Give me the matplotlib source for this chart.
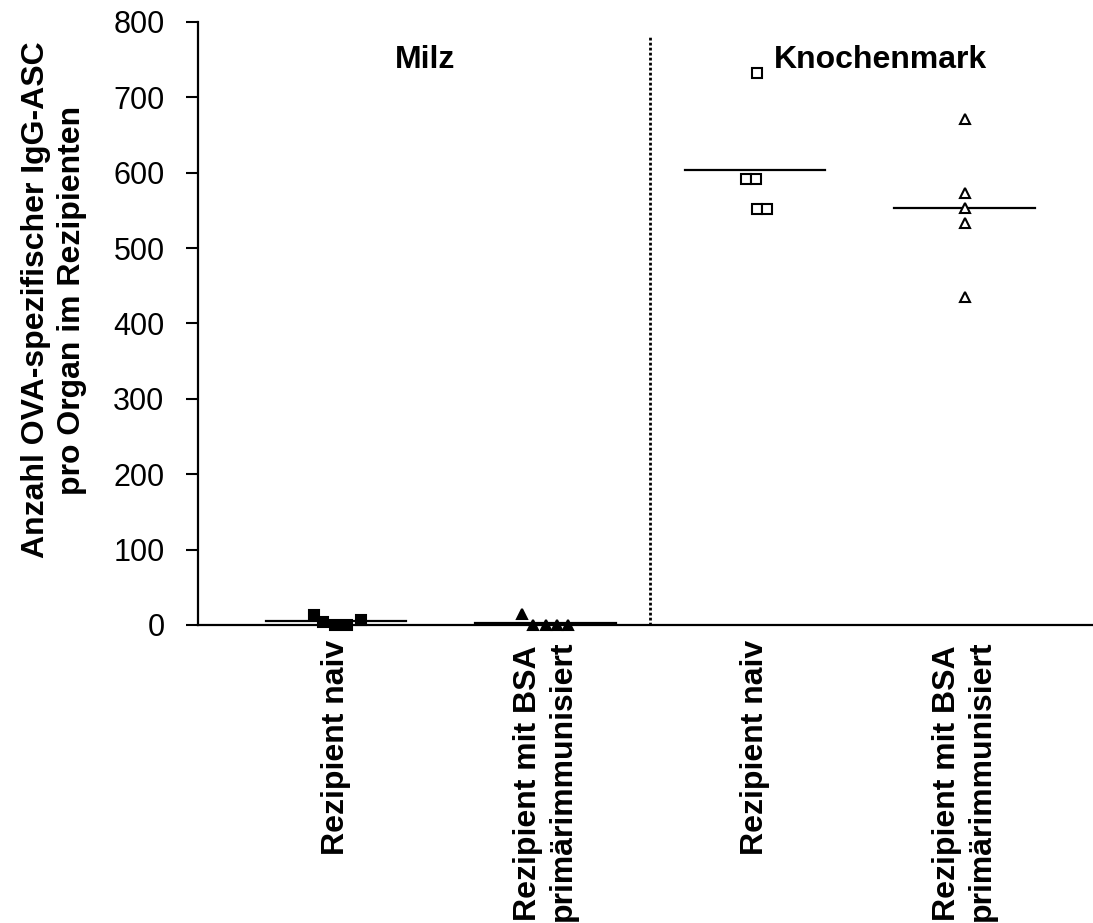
import matplotlib
matplotlib.use('Agg')
import matplotlib.pyplot as plt
import numpy as np

plt.rcParams['font.family'] = ['Liberation Sans', 'DejaVu Sans']

# Groups along the x axis
categories = ['Rezipient naiv', 'Rezipient mit BSA\nprimärimmunisiert',
              'Rezipient naiv', 'Rezipient mit BSA\nprimärimmunisiert']
organs = ['Milz', 'Knochenmark']

# Individual recipients (ASC per organ)
milz_naiv = [13, 4, 0, 0, 7]
milz_bsa = [14, 0, 0, 0, 0]
km_naiv = [732, 592, 592, 552, 552]
km_bsa = [671, 573, 553, 533, 435]

# Horizontal spread of the points within a group
milz_naiv_dx = [-0.105, -0.062, -0.005, 0.053, 0.119]
milz_bsa_dx = [-0.115, -0.062, 0.0, 0.053, 0.105]
km_naiv_dx = [0.007, -0.045, 0.005, 0.010, 0.055]
km_bsa_dx = [0.0, 0.0, 0.0, 0.0, 0.0]

groups = [
    (milz_naiv, milz_naiv_dx, 's', 'black'),
    (milz_bsa, milz_bsa_dx, '^', 'black'),
    (km_naiv, km_naiv_dx, 's', 'white'),
    (km_bsa, km_bsa_dx, '^', 'white'),
]

fig = plt.figure(figsize=(10.93, 9.23), dpi=100)
ax = fig.add_axes([0.1812, 0.3229, 0.8188, 0.6533])

pos = np.arange(1, len(categories) + 1)
for x0, (vals, dx, marker, face) in zip(pos, groups):
    xs = x0 + np.array(dx)
    ax.plot(xs, vals, linestyle='none', marker=marker, markersize=6.5,
            markerfacecolor=face, markeredgecolor='black', markeredgewidth=1.5,
            clip_on=False, zorder=3)
    # group mean
    m = np.mean(vals)
    ax.plot([x0 - 0.335, x0 + 0.335], [m, m], color='black', linewidth=1.6, zorder=2)

# separator between the two organs
ax.plot([2.5, 2.5], [0, 780], color='black', linewidth=2.0,
        linestyle=(0, (1, 0.8)), zorder=1)

ax.text(1.425, 750, organs[0], fontsize=23, fontweight='bold', ha='center', va='center')
ax.text(3.6, 750, organs[1], fontsize=23, fontweight='bold', ha='center', va='center')

ax.set_xlim(0.341, 4.613)
ax.set_ylim(0, 800)
ax.set_yticks(range(0, 801, 100))
ax.tick_params(axis='y', direction='out', length=8.6, width=1.5, labelsize=22, pad=15.5)
ax.set_xticks(pos)
ax.set_xticklabels(categories, rotation=90, fontsize=23, fontweight='bold',
                   va='top', ha='center', multialignment='left')
ax.tick_params(axis='x', length=0, pad=11)

for side in ['top', 'right']:
    ax.spines[side].set_visible(False)
for side in ['left', 'bottom']:
    ax.spines[side].set_linewidth(1.6)

fig.text(54 / 1093, 1 - 300 / 923,
         'Anzahl OVA-spezifischer IgG-ASC\npro Organ im Rezipienten',
         rotation=90, fontsize=23, fontweight='bold', ha='center', va='center',
         multialignment='center', linespacing=1.3)

fig.savefig('out.png', dpi=100)
